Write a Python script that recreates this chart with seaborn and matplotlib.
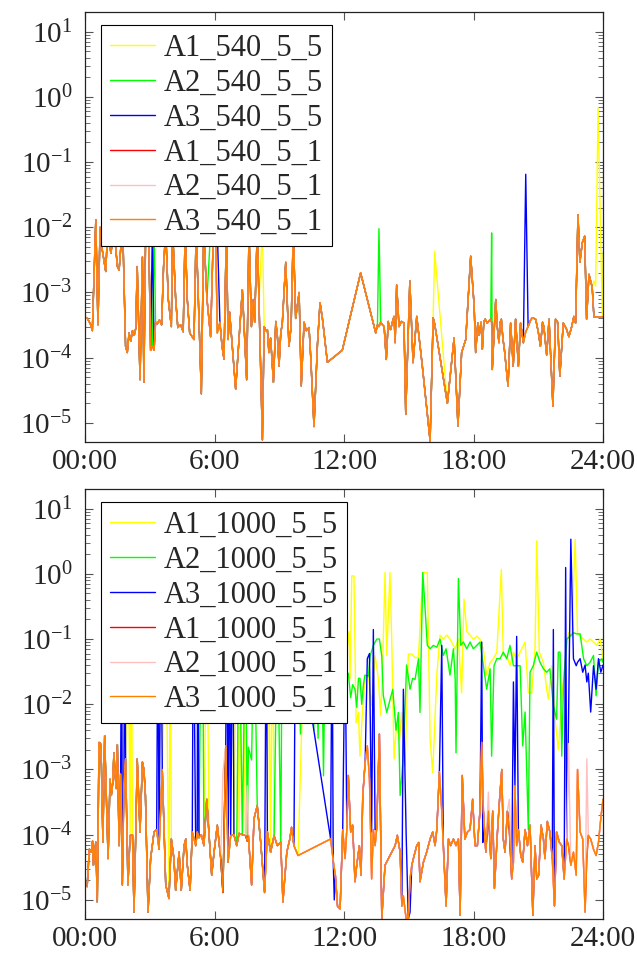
import numpy as np
import matplotlib
matplotlib.use("Agg")
import matplotlib.pyplot as plt
import seaborn as sns
from matplotlib.ticker import FixedLocator, LogFormatterMathtext, NullFormatter

# ---------------- data (hours of day, relative values) ----------------
TOP_NAMES = ["A1_540_5_5", "A2_540_5_5", "A3_540_5_5", "A1_540_5_1", "A2_540_5_1", "A3_540_5_1"]
BOT_NAMES = ["A1_1000_5_5", "A2_1000_5_5", "A3_1000_5_5", "A1_1000_5_1", "A2_1000_5_1", "A3_1000_5_1"]
COLORS = ["#ffff00", "#00ff00", "#0000ff", "#ff0000", "#ffbfbf", "#ff8000"]

# top panel, common trace (A3_540_5_1)
top_t = [0.0, 0.11, 0.25, 0.34, 0.5, 0.6, 0.7, 0.8, 0.96, 1.05,
         1.2, 1.35, 1.5, 1.58, 1.65, 1.75, 1.88, 1.96, 2.04, 2.12,
         2.2, 2.28, 2.35, 2.42, 2.55, 2.66, 2.73, 2.81, 2.95, 3.04,
         3.12, 3.2, 3.27, 3.35, 3.45, 3.55, 3.64, 3.74, 3.86, 4.0,
         4.06, 4.2, 4.3, 4.43, 4.55, 4.64, 4.74, 4.85, 5.05, 5.15,
         5.39, 5.5, 5.65, 5.82, 5.95, 6.05, 6.13, 6.25, 6.35, 6.44,
         6.55, 6.63, 6.7, 6.98, 7.29, 7.49, 7.6, 7.71, 7.8, 7.86,
         7.98, 8.06, 8.22, 8.3, 8.38, 8.45, 8.52, 8.6, 8.73, 8.84,
         8.92, 8.99, 9.07, 9.14, 9.3, 9.45, 9.55, 9.65, 9.76, 9.92,
         10.02, 10.15, 10.25, 10.38, 10.46, 10.61, 10.77, 10.89, 11.0, 11.23,
         11.92, 12.77, 13.47, 13.55, 13.62, 13.7, 13.78, 13.86, 13.96, 14.05,
         14.1, 14.16, 14.25, 14.32, 14.37, 14.44, 14.55, 14.66, 14.78, 14.86,
         15.05, 15.2, 15.37, 15.63, 15.99, 16.13, 16.2, 16.79, 17.1, 17.28,
         17.45, 17.64, 17.87, 17.95, 18.03, 18.1, 18.2, 18.26, 18.35, 18.41,
         18.48, 18.54, 18.64, 18.72, 18.8, 18.84, 18.87, 19.03, 19.1, 19.18,
         19.24, 19.29, 19.36, 19.43, 19.6, 19.72, 19.84, 19.95, 20.08, 20.18,
         20.31, 20.42, 20.53, 20.65, 20.73, 20.88, 21.0, 21.1, 21.2, 21.26,
         21.39, 21.5, 21.68, 21.8, 21.9, 22.0, 22.16, 22.3, 22.42, 22.55,
         22.65, 22.73, 22.84, 22.93, 23.04, 23.15, 23.24, 23.35, 23.5, 23.58,
         23.66, 23.77, 23.97, 24.0]
top_v = [4.2e-4, 4.0e-4, 3.3e-4, 2.6e-4, 1.3e-2, 3.2e-4, 1.0e-2, 4.5e-3, 2.1e-3, 9e-3,
         4e-3, 9e-3, 2.5e-3, 2.2e-3, 4.5e-3, 9e-3, 1.5e-4, 1.2e-4, 2.4e-4, 1.8e-4,
         2.6e-4, 2.2e-4, 2.8e-4, 2.5e-3, 4.6e-5, 3.5e-3, 4.2e-5, 9e-3, 9e-3, 1.3e-4,
         1.5e-4, 1.3e-4, 3.5e-4, 3.3e-4, 3.8e-4, 3.2e-4, 2.5e-3, 9e-3, 7.8e-4, 3e-4,
         9e-3, 8e-4, 2.9e-4, 3.2e-4, 2.5e-4, 9e-3, 7.8e-4, 2.4e-4, 1.9e-4, 9e-3,
         2.8e-5, 9e-3, 8e-4, 2.1e-4, 9e-3, 9e-3, 2.4e-4, 3.5e-4, 1.5e-4, 9.5e-5,
         9e-3, 1.9e-4, 5e-4, 3.3e-5, 1.1e-3, 4.6e-5, 9e-3, 3e-4, 7.8e-4, 3.5e-4,
         9e-3, 7.8e-4, 5.5e-6, 3e-4, 2.6e-4, 2.7e-4, 1.2e-4, 2e-4, 4.2e-5, 3.6e-4,
         2e-4, 7.4e-5, 2.4e-4, 3.3e-4, 2.9e-3, 1.5e-4, 3e-4, 9e-3, 4e-4, 1e-3,
         3.7e-5, 3.5e-4, 2.6e-4, 2.9e-4, 1e-4, 8.8e-6, 1.6e-4, 7e-4, 4e-4, 8.5e-5,
         1.3e-4, 2e-3, 2.4e-4, 3.2e-4, 3e-4, 3.5e-4, 3.2e-4, 3e-4, 9.4e-5, 3.6e-4,
         2.8e-4, 2.7e-4, 3.6e-4, 4.3e-4, 1.7e-4, 1.3e-3, 3e-4, 3.6e-4, 3.4e-4, 1.35e-5,
         1.5e-3, 8.4e-5, 4.3e-4, 7.4e-5, 5.3e-6, 4.1e-4, 3.3e-4, 2e-5, 2e-4, 9e-6,
         1.2e-4, 1.9e-4, 3.6e-3, 1.5e-3, 6.2e-4, 1.2e-4, 3.4e-4, 2.2e-4, 3.5e-4, 1.35e-4,
         3.6e-4, 3.9e-4, 3.4e-4, 3.7e-4, 3.9e-4, 3.5e-4, 6.6e-5, 7.8e-4, 3e-4, 1.7e-4,
         3.5e-4, 3.9e-4, 2e-4, 1.35e-4, 3.7e-5, 3.4e-4, 7.4e-5, 3.9e-4, 7.4e-5, 3.4e-4,
         1.7e-4, 2.5e-4, 3e-4, 3.8e-4, 4.1e-4, 3.9e-4, 2.5e-4, 1.5e-4, 3.5e-4, 3e-4,
         1.1e-4, 3.9e-4, 1.8e-5, 3.9e-4, 3.5e-4, 5.2e-5, 3.4e-4, 2.8e-4, 2.1e-4, 3e-4,
         4.3e-4, 3.4e-4, 1.56e-2, 2.9e-3, 5.8e-3, 7.3e-3, 3.9e-4, 1.9e-3, 1.2e-3, 4.2e-4,
         4.2e-4, 4.2e-4, 4.2e-4, 4.2e-4]

# top panel, points where the other runs leave the common trace
top_a1_t = [8.22, 16.2, 23.58, 23.66, 23.77, 24.0]
top_a1_v = [9e-3, 4.3e-3, 1.5e-3, 1.25e-3, 0.68, 4e-3]
top_a2_t = [3.2, 5.82, 13.62, 18.84]
top_a2_v = [9e-3, 9e-3, 9.5e-3, 8.2e-3]
top_a3_t = [3.12, 6.13, 20.42]
top_a3_v = [9e-3, 9e-3, 6.5e-2]

# bottom panel, common trace (A3_1000_5_1)
bot_t = [0.1, 0.2, 0.29, 0.35, 0.39, 0.5, 0.57, 0.65, 0.72, 0.76,
         0.83, 0.91, 1.0, 1.07, 1.16, 1.22, 1.28, 1.34, 1.4, 1.45,
         1.5, 1.58, 1.65, 1.73, 1.8, 1.88, 1.99, 2.09, 2.2, 2.27,
         2.35, 2.42, 2.55, 2.66, 2.73, 2.8, 2.92, 3.04, 3.2, 3.32,
         3.43, 3.58, 3.74, 3.89, 4.0, 4.12, 4.2, 4.36, 4.46, 4.59,
         4.67, 4.74, 4.87, 4.97, 5.13, 5.2, 5.28, 5.39, 5.51, 5.64,
         5.75, 5.87, 5.98, 6.13, 6.29, 6.39, 6.52, 6.63, 6.75, 6.9,
         7.03, 7.14, 7.29, 7.44, 7.52, 7.57, 7.72, 7.83, 7.98, 8.14,
         8.32, 8.45, 8.6, 8.76, 8.91, 9.07, 9.17, 9.35, 9.49, 9.57,
         9.68, 9.87, 11.38, 11.5, 11.6, 11.7, 11.82, 11.94, 12.05, 12.13,
         12.2, 12.31, 12.4, 12.51, 12.59, 12.71, 12.79, 12.87, 12.98, 13.08,
         13.18, 13.28, 13.36, 13.44, 13.51, 13.64, 13.75, 13.9, 14.13, 14.37,
         14.47, 14.6, 14.68, 14.75, 14.88, 14.98, 15.06, 15.14, 15.25, 15.37,
         15.46, 15.52, 15.68, 15.83, 15.99, 16.11, 16.22, 16.3, 16.42, 16.53,
         16.6, 16.73, 16.84, 16.94, 17.07, 17.19, 17.3, 17.38, 17.48, 17.6,
         17.72, 17.84, 17.96, 18.07, 18.18, 18.3, 18.38, 18.46, 18.57, 18.69,
         18.8, 18.89, 18.97, 19.11, 19.2, 19.31, 19.38, 19.46, 19.57, 19.66,
         19.77, 19.85, 19.92, 20.0, 20.08, 20.19, 20.28, 20.39, 20.5, 20.62,
         20.75, 20.85, 20.93, 21.02, 21.13, 21.24, 21.31, 21.42, 21.54, 21.65,
         21.75, 21.85, 21.98, 22.09, 22.2, 22.32, 22.4, 22.51, 22.63, 22.76,
         22.82, 22.94, 23.06, 23.17, 23.25, 23.32, 23.43, 23.56, 23.68, 23.79,
         23.9, 24.0]
bot_v = [1.6e-5, 6e-5, 5.4e-5, 8e-5, 3.4e-5, 7.7e-5, 9.3e-6, 2.6e-3, 2.5e-3, 1.2e-3,
         7.7e-5, 3.3e-3, 3e-4, 4.3e-5, 7.1e-4, 4e-4, 6e-4, 1.8e-3, 8e-4, 5.1e-4,
         2.4e-3, 6.8e-5, 8.5e-4, 1.7e-5, 5e-4, 1.45e-3, 1.7e-5, 9.7e-5, 1e-4, 6.5e-6,
         9.7e-5, 1.45e-3, 1.1e-4, 1.3e-3, 1e-3, 4e-4, 6.5e-6, 4.3e-5, 1.1e-4, 1.2e-4,
         6e-5, 1e-3, 1.7e-5, 1.05e-5, 8.6e-5, 4.3e-5, 1.4e-5, 5.4e-5, 1.4e-5, 6.8e-5,
         8.6e-5, 3.4e-5, 1.4e-5, 1.1e-4, 6.8e-5, 1.1e-4, 9e-5, 1e-4, 6.8e-5, 3.5e-4,
         9.7e-5, 2.4e-5, 5.4e-5, 1.4e-4, 4.3e-5, 1.3e-5, 2.3e-3, 3.8e-5, 9.7e-5, 1e-4,
         6.8e-5, 1.05e-4, 1e-4, 9.7e-5, 8e-5, 9.7e-5, 1.7e-5, 1.75e-4, 2.8e-4, 7.7e-5,
         1.3e-5, 1.1e-4, 5.4e-5, 9.7e-5, 6.8e-5, 7.7e-5, 9.3e-6, 5.4e-5, 8.6e-5, 1.3e-4,
         6.8e-5, 4.8e-5, 8.6e-5, 4e-5, 2.4e-5, 8e-6, 7.3e-6, 1.2e-4, 4.3e-5, 1.2e-4,
         8.1e-4, 1.1e-4, 1.4e-4, 1.9e-5, 3.4e-5, 6.8e-5, 2.4e-5, 4e-4, 1.3e-3, 2.3e-3,
         7.1e-4, 2.1e-5, 1.2e-4, 6.8e-5, 1.2e-4, 3.5e-3, 5.1e-6, 3.4e-5, 4.8e-5, 6.8e-5,
         9.8e-5, 5.4e-5, 8.1e-6, 1.15e-5, 5.1e-6, 5.1e-6, 2.1e-5, 3.4e-5, 4.8e-5, 6.8e-5,
         7.6e-5, 1.9e-5, 3.8e-5, 5.4e-5, 8.6e-5, 1.1e-4, 6.8e-5, 1.2e-4, 9.2e-4, 2.3e-4,
         6.8e-5, 8.1e-6, 8.6e-5, 6.8e-5, 8.6e-5, 6.8e-5, 8.6e-5, 5.8e-6, 8.1e-4, 8.6e-5,
         1.1e-4, 1.2e-4, 3.5e-4, 6.8e-5, 6.8e-5, 2.3e-4, 2.6e-3, 2.3e-4, 5.4e-5, 2.3e-4,
         4.3e-5, 2.3e-4, 1.5e-5, 1.1e-4, 3.2e-4, 1e-3, 8.6e-5, 5.4e-5, 2.3e-4, 1.2e-4,
         2.1e-5, 3.8e-5, 5.6e-4, 6.8e-5, 1.2e-4, 4.8e-5, 3.8e-5, 1.2e-4, 6.8e-5, 1.4e-4,
         5.8e-6, 6.8e-5, 2.1e-5, 2.4e-5, 1.4e-4, 8.6e-5, 4.3e-5, 1.6e-4, 1.1e-4, 4.3e-5,
         8.1e-6, 1.1e-4, 7.6e-5, 6.8e-5, 2.1e-5, 8.6e-5, 6.8e-5, 3.4e-5, 5.4e-5, 2.4e-5,
         1e-3, 1.1e-4, 8.6e-5, 6.5e-6, 4.3e-5, 9.8e-5, 8.6e-5, 6e-5, 4.8e-5, 7.6e-5,
         1.8e-4, 3.5e-4]

# bottom panel, A1_1000_5_5 (follows common trace up to 9.87 h)
bot_a1_t = [1.99, 2.15, 3.74, 3.95, 5.64, 7.03, 7.29, 8.5, 8.7,
            10.22, 10.7, 11.2, 11.7, 12.0, 12.12, 12.23, 12.28, 12.36, 12.46,
            12.56, 12.67, 12.74, 12.87, 12.97, 13.13, 13.28, 13.44, 13.59, 13.7,
            13.79, 13.9, 13.98, 14.13, 14.21, 14.32, 14.44, 14.57, 14.68, 14.83,
            14.98, 15.14, 15.29, 15.45, 15.65, 15.86, 15.99, 16.11, 16.3, 16.45,
            16.6, 16.76, 16.91, 17.15, 17.3, 17.45, 17.56, 17.69, 17.84, 17.99,
            18.15, 18.3, 18.46, 18.61, 18.77, 18.92, 19.08, 19.29, 19.38, 19.54,
            19.69, 19.85, 20.0, 20.16, 20.39, 20.54, 20.7, 20.85, 20.93, 21.05,
            21.24, 21.39, 21.47, 21.62, 21.78, 21.93, 22.09, 22.24, 22.4, 22.55,
            22.71, 22.82, 22.94, 23.1, 23.25, 23.4, 23.56, 23.71, 23.87, 24.0]
bot_a1_v = [0.5, 0.4, 0.5, 0.3, 0.5, 0.5, 0.5, 0.5, 0.4,
            0.5, 0.3, 0.4, 0.2, 0.022, 0.063, 0.13, 0.025, 0.93, 0.93,
            5.2e-3, 7.5e-3, 1.6e-3, 9.5e-3, 0.025, 0.028, 9.5e-3, 0.056, 0.025, 6.7e-3,
            0.04, 1.05, 0.056, 1.05, 0.1, 1.45e-3, 5.2e-3, 2.9e-3, 7.5e-3, 1.15e-3,
            0.059, 0.059, 0.052, 0.052, 1.05, 1.05, 2.9e-3, 9e-4, 0.028, 0.115,
            0.1, 0.115, 0.1, 0.071, 0.1, 0.015, 0.41, 0.13, 0.115, 0.1,
            0.11, 0.1, 0.07, 0.028, 0.044, 0.05, 0.063, 1.17, 0.056, 0.056,
            0.039, 0.063, 0.05, 0.063, 0.09, 0.015, 0.015, 0.07, 3.2, 0.063,
            0.044, 0.017, 0.012, 0.039, 5.9e-3, 2e-3, 0.012, 0.044, 0.125, 0.11,
            3.4, 0.125, 0.11, 0.1, 0.09, 0.1, 0.09, 0.08, 0.1, 0.05]

# bottom panel, A2_1000_5_5 (follows common trace up to 9.07 h)
bot_a2_t = [5.39, 5.45, 7.14, 7.44, 7.57, 7.72, 7.83, 8.91,
            9.14, 9.5, 9.9, 9.98, 10.1, 10.5, 10.6, 10.68, 10.8, 10.88,
            10.95, 11.05, 11.15, 11.6, 11.97, 12.09, 12.2, 12.31, 12.4, 12.51,
            12.59, 12.67, 12.74, 12.82, 12.9, 12.97, 13.13, 13.21, 13.36, 13.52,
            13.64, 13.75, 13.82, 13.98, 14.26, 14.41, 14.52, 14.6, 14.68, 14.75,
            14.9, 15.06, 15.18, 15.29, 15.45, 15.52, 15.65, 15.75, 15.86, 15.99,
            16.14, 16.3, 16.45, 16.6, 16.73, 16.84, 16.91, 17.07, 17.15, 17.19,
            17.3, 17.41, 17.53, 17.69, 17.84, 17.99, 18.07, 18.3, 18.46, 18.61,
            18.77, 18.84, 18.95, 19.08, 19.23, 19.38, 19.54, 19.69, 19.77, 19.85,
            20.16, 20.28, 20.39, 20.54, 20.62, 20.77, 20.93, 21.08, 21.24, 21.39,
            21.54, 21.7, 21.85, 21.93, 22.01, 22.09, 22.17, 22.32, 22.47, 22.63,
            22.78, 22.94, 23.1, 23.25, 23.4, 23.56, 23.68, 23.79, 23.94, 24.0]
bot_a2_v = [0.5, 0.3, 0.4, 0.3, 2.2e-3, 1.4e-3, 0.3, 0.3,
            0.3, 0.2, 0.3, 3.5e-3, 0.3, 0.2, 4e-3, 0.2, 3e-3, 0.3,
            0.2, 8e-4, 0.3, 0.2, 0.15, 0.028, 0.03, 0.0126, 0.02, 0.017,
            9e-3, 0.025, 0.025, 0.01, 0.02, 0.028, 0.027, 0.055, 0.08, 0.1,
            0.1, 0.055, 0.0136, 7.5e-3, 0.017, 4e-3, 7.5e-3, 4e-4, 8e-4, 1.8e-3,
            0.04, 0.017, 0.025, 0.024, 0.05, 7.5e-3, 1.05, 0.32, 0.08, 0.071,
            0.08, 0.075, 0.1, 0.056, 0.071, 0.04, 0.028, 0.071, 0.025, 1.8e-3,
            0.85, 0.08, 0.09, 0.071, 0.09, 0.071, 0.075, 0.09, 0.039, 0.017,
            0.035, 1.6e-3, 0.039, 0.05, 0.05, 0.063, 0.05, 0.08, 0.056, 0.039,
            0.039, 2.3e-3, 7.6e-3, 1.2e-4, 0.031, 0.039, 0.063, 0.044, 0.035, 0.031,
            0.035, 9.5e-3, 5.9e-3, 0.063, 0.063, 1.6e-3, 0.02, 0.1, 0.11, 0.125,
            0.12, 0.12, 0.05, 0.039, 0.044, 0.056, 0.0135, 0.044, 0.05, 0.044]

# bottom panel, A3_1000_5_5 (common trace plus these points)
bot_a3_t = [1.7, 1.85, 3.38, 3.52, 5.02, 5.22, 6.58, 6.7, 6.85, 8.4,
            9.76, 9.87, 11.45, 11.55, 12.05, 13.08, 13.18, 13.28, 13.36, 13.44,
            14.75, 14.88, 15.06, 16.53, 16.6, 18.38, 18.43, 19.85, 20.0, 21.7,
            22.27, 22.4, 22.51, 22.63, 22.76, 22.82, 22.94, 23.06, 23.17, 23.25,
            23.32, 23.43, 23.56, 23.68, 23.79, 23.9, 24.0]
bot_a3_v = [0.5, 0.5, 0.5, 0.4, 0.5, 0.4, 0.5, 0.4, 0.5, 0.5,
            0.5, 0.15, 0.3, 1e-5, 0.13, 0.05, 0.06, 1.1e-4, 0.14, 1.2e-4,
            0.017, 1e-4, 6.5e-6, 0.08, 7.6e-5, 0.09, 7.6e-5, 0.022, 0.11, 0.14,
            1.25, 4.9e-3, 3.4, 0.05, 0.039, 0.044, 0.05, 0.031, 0.04, 0.022,
            0.03, 7.6e-3, 0.039, 0.017, 0.05, 0.031, 0.04]

# bottom panel, A2_1000_5_1 departures
bot_b2_t = [6.39, 7.52, 18.69, 19.66, 22.4, 23.25]
bot_b2_v = [9e-4, 5.6e-4, 4.5e-4, 3.5e-4, 2.5e-3, 1.45e-3]

XTICKS = [0, 6, 12, 18, 24]
XTICKLABELS = ["00:00", "6:00", "12:00", "18:00", "24:00"]
YDECADES = [1e-5, 1e-4, 1e-3, 1e-2, 1e-1, 1e0, 1e1]


def merge(base_t, base_v, extra_t=(), extra_v=(), cut=None):
    pts = {t: v for t, v in zip(base_t, base_v, strict=True) if cut is None or t <= cut}
    pts.update(zip(extra_t, extra_v, strict=True))
    ts = sorted(pts)
    return ts, [pts[t] for t in ts]


def draw_panel(ax, names, series):
    for name, color, (t, v) in zip(names, COLORS, series):
        sns.lineplot(x=t, y=v, ax=ax, color=color, lw=1.0, label=name,
                     estimator=None, sort=False)
    ax.set_yscale("log")
    ax.set_xlim(0, 24)
    ax.set_ylim(5.1e-6, 20)
    ax.set_xticks(XTICKS)
    ax.set_xticklabels(XTICKLABELS)
    # only ticks inside the visible range
    minors = [d * k for d in YDECADES[:-1] for k in range(2, 10)] + [20.0]
    ax.yaxis.set_major_locator(FixedLocator(YDECADES))
    ax.yaxis.set_major_formatter(LogFormatterMathtext())
    ax.yaxis.set_minor_locator(FixedLocator([m for m in minors if m < 19.9]))
    ax.yaxis.set_minor_formatter(NullFormatter())
    ax.tick_params(which="both", direction="in", top=True, right=True,
                   labelsize=21, color="#555555")
    ax.tick_params(which="major", length=6, width=0.8)
    ax.tick_params(which="minor", length=3.5, width=0.6, labelleft=False)
    ax.tick_params(axis="x", pad=5)
    ax.tick_params(axis="y", pad=9)
    ax.set_xlabel("")
    ax.set_ylabel("")
    for s in ax.spines.values():
        s.set_color("#222222")
        s.set_linewidth(0.9)
    handles, labels = ax.get_legend_handles_labels()
    leg = ax.legend(handles, labels, loc="upper left", bbox_to_anchor=(0.031, 0.97),
                    borderaxespad=0, fancybox=False, edgecolor="black", framealpha=1,
                    fontsize=22, handlelength=1.45, handletextpad=0.3,
                    labelspacing=0.19, borderpad=0.3)
    leg.get_frame().set_linewidth(0.8)


sns.set_style("ticks")
plt.rcParams["font.family"] = ["Liberation Serif", "DejaVu Serif"]
plt.rcParams["mathtext.fontset"] = "custom"
plt.rcParams["mathtext.rm"] = "Liberation Serif"
plt.rcParams["mathtext.it"] = "Liberation Serif:italic"

fig = plt.figure(figsize=(6.37, 9.58), dpi=100)
ax_top = fig.add_axes([85 / 637, 1 - 442 / 958, 518 / 637, 430 / 958])
ax_bot = fig.add_axes([85 / 637, 1 - 919 / 958, 518 / 637, 430 / 958])

top_series = [
    merge(top_t, top_v, top_a1_t, top_a1_v),
    merge(top_t, top_v, top_a2_t, top_a2_v),
    merge(top_t, top_v, top_a3_t, top_a3_v),
    merge(top_t, top_v),
    merge(top_t, top_v),
    merge(top_t, top_v),
]
bot_series = [
    merge(bot_t, bot_v, bot_a1_t, bot_a1_v, cut=9.87),
    merge(bot_t, bot_v, bot_a2_t, bot_a2_v, cut=9.07),
    merge(bot_t, bot_v, bot_a3_t, bot_a3_v),
    merge(bot_t, bot_v),
    merge(bot_t, bot_v, bot_b2_t, bot_b2_v),
    merge(bot_t, bot_v),
]

draw_panel(ax_top, TOP_NAMES, top_series)
draw_panel(ax_bot, BOT_NAMES, bot_series)

fig.savefig("out.png", dpi=100)
